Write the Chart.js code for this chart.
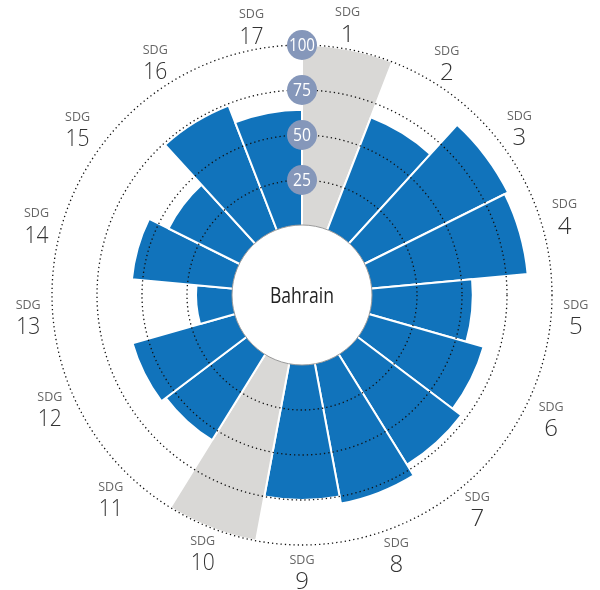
<!DOCTYPE html>
<html>
<head>
<meta charset="utf-8">
<script src="https://cdn.jsdelivr.net/npm/chart.js@4.4.0/dist/chart.umd.min.js"></script>
<style>
  body { margin: 0; background: #fff; }
  #wrap { width: 600px; height: 590px; }
</style>
</head>
<body>
<div id="wrap"><canvas id="sdg-chart"></canvas></div>
<script>
const country = "Bahrain";
const goals = ["1", "2", "3", "4", "5", "6", "7", "8", "9", "10", "11", "12", "13", "14", "15", "16", "17"];
// null = no data, drawn as a grey wedge at full length
const scores = [null, 67, 89, 87, 56, 66, 72, 79, 75, null, 56, 59, 20, 56, 44, 74, 64];
const gridTicks = [25, 50, 75, 100];
const missingValue = 100;

const blue = "#1173bb";
const grey = "#d9d8d6";

// small hand nudges for the outer labels, [dx, dy] in px
const labelNudge = {
  "1": [-5, -2], "3": [-2, -3], "4": [-2, -5], "5": [0, -5], "6": [3, 0],
  "7": [-10, 9], "8": [-5, 2], "11": [-6, -1], "12": [-6, -10],
  "13": [0, -5], "14": [-1, 4], "15": [-5, -2], "16": [-2, -1],
};

// hole in the middle, tick badges and the SDG labels
const overlay = {
  id: "sdgOverlay",
  afterDraw: (chart) => {
    const { ctx } = chart;
    const r = chart.scales.r;
    const cx = r.xCenter;
    const cy = r.yCenter;
    ctx.save();
    ctx.textAlign = "center";
    ctx.textBaseline = "middle";

    ctx.beginPath();
    ctx.arc(cx, cy, r.getDistanceFromCenterForValue(0), 0, Math.PI * 2);
    ctx.fillStyle = "#fff";
    ctx.fill();
    ctx.strokeStyle = "#9a9a9a";
    ctx.lineWidth = 1;
    ctx.stroke();
    ctx.fillStyle = "#222";
    ctx.font = "21px 'Open Sans'";
    ctx.fillText(country, cx, cy + 2, 64);

    gridTicks.forEach((v) => {
      const y = cy - r.getDistanceFromCenterForValue(v);
      ctx.beginPath();
      ctx.arc(cx, y, 15, 0, Math.PI * 2);
      ctx.fillStyle = "#8597ba";
      ctx.fill();
      ctx.fillStyle = "#fff";
      ctx.font = "18px 'Open Sans'";
      let txt = String(v);
      ctx.fillText(txt, cx, y + 1, txt.length > 2 ? 26 : 18);
    });

    const n = goals.length;
    const labelR = r.drawingArea + 25;
    goals.forEach((g, i) => {
      const a = ((i + 0.5) * 2 * Math.PI) / n - Math.PI / 2;
      const nudge = labelNudge[g] || [0, 0];
      const x = cx + labelR * Math.cos(a) + nudge[0];
      const y = cy + labelR * Math.sin(a) + nudge[1];
      ctx.fillStyle = "#666";
      ctx.font = "13px 'Open Sans'";
      ctx.fillText("SDG", x, y - 10, 25);
      ctx.fillStyle = "#333";
      ctx.font = "300 24px 'Open Sans'";
      ctx.fillText(g, x, y + 12, g.length > 1 ? 24 : 14);
    });
    ctx.restore();
  },
};

new Chart(document.getElementById("sdg-chart"), {
  type: "polarArea",
  data: {
    labels: goals.map((g) => "SDG " + g),
    datasets: [
      {
        data: scores.map((v) => (v === null ? missingValue : v)),
        backgroundColor: scores.map((v) => (v === null ? grey : blue)),
        borderColor: "#fff",
        borderWidth: 2,
      },
    ],
  },
  options: {
    responsive: true,
    maintainAspectRatio: false,
    animation: false,
    layout: { padding: { left: 52, right: 48, top: 45, bottom: 45 } },
    plugins: { legend: { display: false }, tooltip: { enabled: false } },
    scales: {
      r: {
        min: -38.9,
        max: 100,
        startAngle: 0,
        ticks: { display: false },
        afterBuildTicks: (s) => {
          s.ticks = [s.min].concat(gridTicks).map((v) => ({ value: v }));
        },
        grid: {
          circular: true,
          z: 1,
          color: (c) => (c.index === 0 ? "rgba(0,0,0,0)" : "#111"),
          lineWidth: 1.3,
        },
        border: { dash: [1.3, 3] },
        angleLines: { display: false },
        pointLabels: { display: false },
      },
    },
  },
  plugins: [overlay],
});
</script>
</body>
</html>
